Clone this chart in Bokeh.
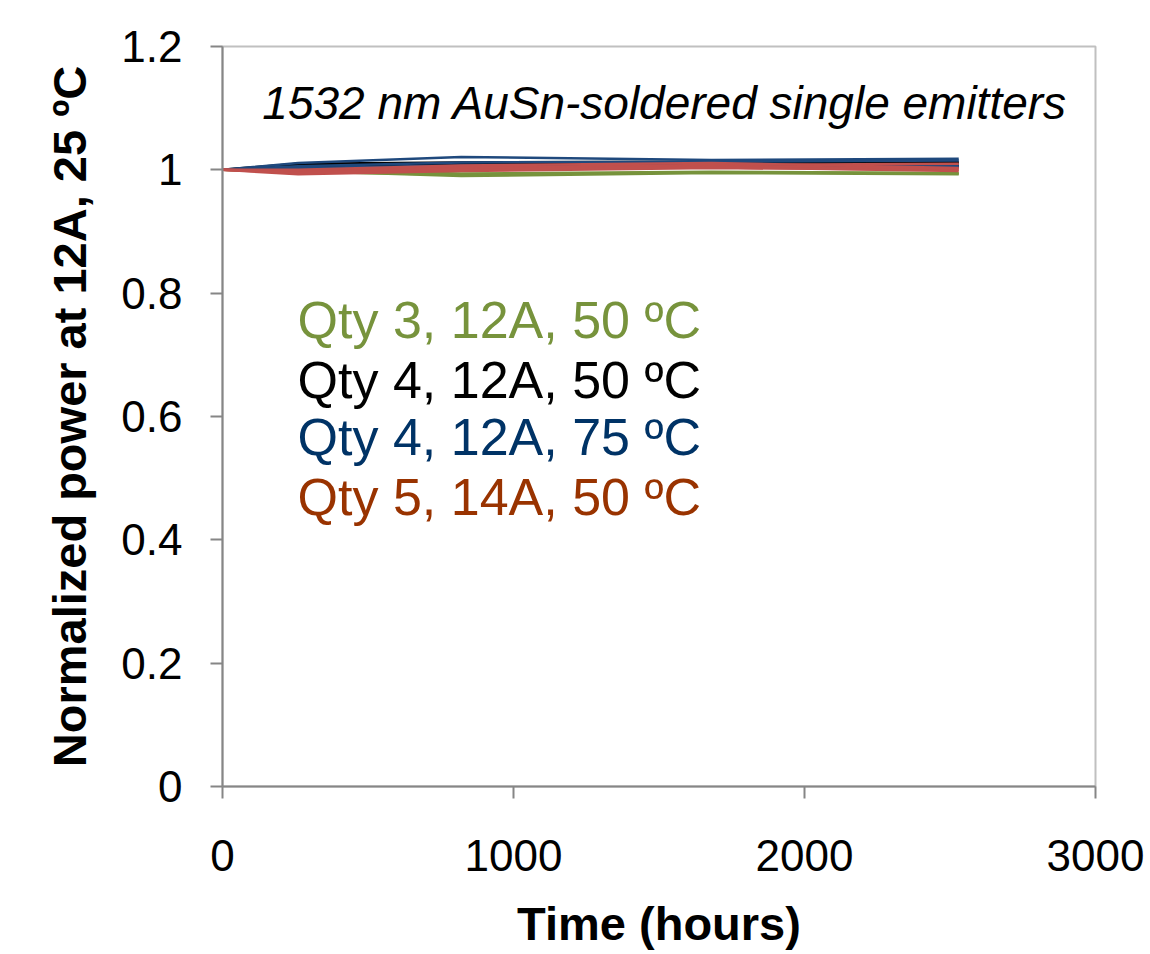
from bokeh.plotting import figure
from bokeh.models import FixedTicker, CustomJSTickFormatter, Label, Range1d
from bokeh.embed import file_html
from bokeh.resources import INLINE

# Measurement times (hours)
time_h = [0, 260, 820, 1680, 2530]

# Normalized power at 12A, 25 ºC for each emitter
green_3_12A_50C = [
    [1.0, 0.998, 0.990, 0.995, 0.993],
    [1.0, 0.997, 0.992, 0.996, 0.994],
    [1.0, 0.999, 0.994, 0.997, 0.995],
]
black_4_12A_50C = [
    [1.0, 1.010, 1.012, 1.013, 1.013],
    [1.0, 1.007, 1.009, 1.010, 1.011],
    [1.0, 1.004, 1.006, 1.008, 1.007],
    [1.0, 1.002, 1.004, 1.006, 1.005],
]
blue_4_12A_75C = [
    [1.0, 1.011, 1.021, 1.016, 1.018],
    [1.0, 1.006, 1.012, 1.013, 1.015],
    [1.0, 1.003, 1.007, 1.008, 1.006],
    [1.0, 1.001, 1.004, 1.005, 1.004],
]
red_5_14A_50C = [
    [1.0, 0.993, 0.998, 1.003, 1.000],
    [1.0, 0.998, 1.004, 1.008, 1.010],
    [1.0, 1.000, 1.007, 1.011, 1.003],
    [1.0, 0.996, 1.002, 1.006, 1.002],
    [1.0, 0.995, 1.000, 1.004, 0.998],
]

series = [
    (green_3_12A_50C, "#77933C"),
    (black_4_12A_50C, "#000000"),
    (blue_4_12A_75C, "#1F497D"),
    (red_5_14A_50C, "#C0504D"),
]

legend_texts = ["Qty 3, 12A, 50 ºC", "Qty 4, 12A, 50 ºC",
                "Qty 4, 12A, 75 ºC", "Qty 5, 14A, 50 ºC"]
legend_colors = ["#77933C", "#000000", "#003366", "#993300"]
legend_y = [0.756, 0.660, 0.566, 0.470]

y_ticks = [0, 0.2, 0.4, 0.6, 0.8, 1.0, 1.2]
x_ticks = [0, 1000, 2000, 3000]

FONT = "Liberation Sans"

p = figure(width=1150, height=954, output_backend="svg", toolbar_location=None,
           x_range=Range1d(0, 3000), y_range=Range1d(0, 1.2),
           min_border_left=222, min_border_right=55, min_border_top=46,
           min_border_bottom=168)
p.background_fill_color = "white"
p.border_fill_color = "white"
p.outline_line_color = "#c0c0c0"
p.outline_line_width = 2
p.xgrid.visible = False
p.ygrid.visible = False

for runs, color in series:
    for vals in runs:
        p.line(time_h, vals, line_color=color, line_width=2.5)

# Axes
for ax in (p.xaxis[0], p.yaxis[0]):
    ax.axis_line_color = "#868686"
    ax.axis_line_width = 2
    ax.major_tick_line_color = "#868686"
    ax.major_tick_line_width = 2
    ax.major_tick_out = 12
    ax.major_tick_in = 0
    ax.minor_tick_line_color = None
    ax.major_label_text_font = FONT
    ax.major_label_text_font_size = "44px"
    ax.major_label_text_color = "black"
    ax.axis_label_text_font = FONT
    ax.axis_label_text_font_style = "bold"
    ax.axis_label_text_font_size = "47px"
    ax.axis_label_text_color = "black"

p.yaxis.ticker = FixedTicker(ticks=y_ticks)
p.yaxis.formatter = CustomJSTickFormatter(
    code="return tick.toFixed(1).replace(/\\.0$/, '');")
p.yaxis.major_label_standoff = 28
p.yaxis.axis_label = "Normalized power at 12A, 25 ºC"
p.yaxis.axis_label_standoff = 22

p.xaxis.ticker = FixedTicker(ticks=x_ticks)
p.xaxis.major_label_standoff = 41
p.xaxis.axis_label = "Time (hours)"
p.xaxis.axis_label_standoff = 23

# Title inside plot
p.add_layout(Label(x=137, y=1.1076, text="1532 nm AuSn-soldered single emitters",
                   text_font=FONT, text_font_style="italic", text_font_size="46px",
                   text_baseline="middle", text_color="black"))

# Series legend as colored text
for txt, col, yy in zip(legend_texts, legend_colors, legend_y):
    p.add_layout(Label(x=258, y=yy, text=txt, text_font=FONT,
                       text_font_size="52px", text_baseline="middle",
                       text_color=col))

open("out.html", "w").write(file_html(p, INLINE))
